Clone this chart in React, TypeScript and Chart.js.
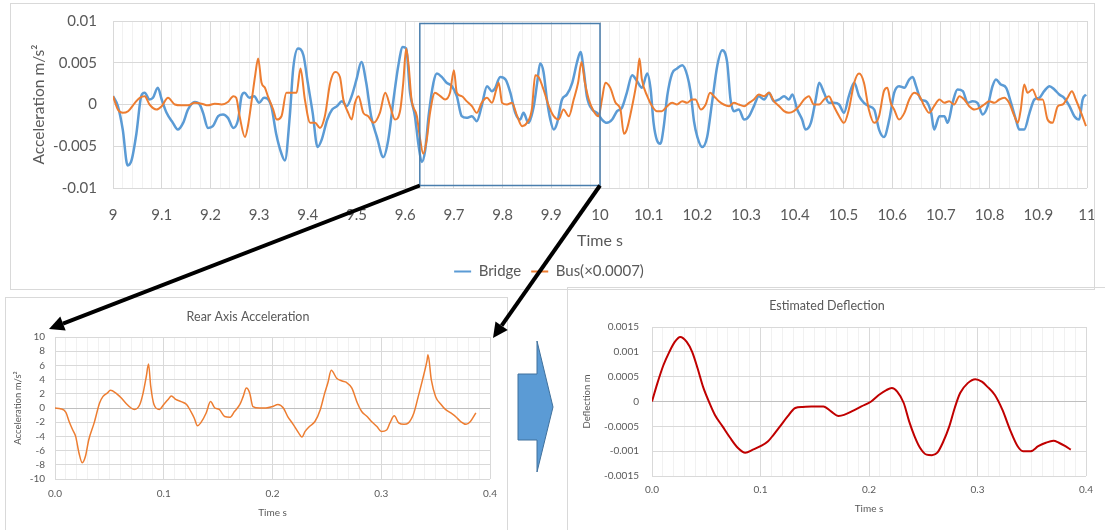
import React, { useEffect, useRef } from 'react';
import { Chart, registerables } from 'chart.js';

Chart.register(...registerables);

const FONT = 'Lato, "Noto Sans", "DejaVu Sans", sans-serif';
const TEXT = '#595959';
const BLUE = '#5B9BD5';
const ORANGE = '#ED7D31';
const RED = '#C00000';

// ---------- Top chart: bridge and bus acceleration ----------
const bridgeTime = [
  9.0, 9.01, 9.02, 9.03, 9.038, 9.048, 9.058, 9.065, 9.075, 9.082, 9.092, 9.1, 9.11, 9.123, 9.133, 9.144, 9.154, 9.168, 9.178, 9.185,
  9.195, 9.205, 9.216, 9.226, 9.236, 9.247, 9.257, 9.264, 9.27, 9.28, 9.29, 9.3, 9.31, 9.325, 9.335, 9.346, 9.353, 9.363, 9.37, 9.38,
  9.391, 9.4, 9.41, 9.42, 9.428, 9.44, 9.45, 9.46, 9.47, 9.48, 9.49, 9.5, 9.51, 9.52, 9.53, 9.542, 9.555, 9.565, 9.576, 9.586,
  9.595, 9.602, 9.61, 9.62, 9.627, 9.634, 9.641, 9.648, 9.658, 9.665, 9.675, 9.685, 9.696, 9.706, 9.716, 9.726, 9.737, 9.747, 9.757, 9.768,
  9.778, 9.785, 9.795, 9.806, 9.816, 9.826, 9.836, 9.843, 9.853, 9.864, 9.871, 9.877, 9.884, 9.891, 9.898, 9.905, 9.912, 9.922, 9.932, 9.943,
  9.953, 9.96, 9.967, 9.973, 9.984, 9.994, 10.004, 10.014, 10.025, 10.035, 10.045, 10.055, 10.066, 10.076, 10.086, 10.097, 10.104, 10.11, 10.117, 10.124,
  10.131, 10.138, 10.148, 10.158, 10.169, 10.179, 10.186, 10.193, 10.2, 10.21, 10.22, 10.23, 10.241, 10.251, 10.261, 10.268, 10.275, 10.285, 10.296, 10.306,
  10.316, 10.326, 10.337, 10.347, 10.357, 10.368, 10.378, 10.388, 10.395, 10.405, 10.415, 10.422, 10.433, 10.443, 10.45, 10.46, 10.47, 10.48, 10.491, 10.501,
  10.511, 10.522, 10.532, 10.542, 10.552, 10.563, 10.573, 10.583, 10.594, 10.604, 10.614, 10.625, 10.635, 10.642, 10.649, 10.659, 10.669, 10.68, 10.686, 10.697,
  10.707, 10.714, 10.724, 10.734, 10.745, 10.755, 10.765, 10.775, 10.786, 10.796, 10.806, 10.813, 10.823, 10.834, 10.844, 10.854, 10.861, 10.871, 10.882, 10.892,
  10.902, 10.912, 10.923, 10.933, 10.943, 10.953, 10.964, 10.974, 10.984, 10.991, 10.998,
];
const bridgeAccel = [
  0.001, -0.0002, -0.003, -0.0073, -0.0067, -0.0035, 0.001, 0.0014, 0.0006, 0.0008, 0.002, 0.0006, -0.001, -0.0022, -0.003, -0.0022, -0.0006, 0.0003, 0.0, -0.001,
  -0.0028, -0.0026, -0.0014, -0.0012, -0.0016, -0.0028, -0.0018, 0.001, 0.0014, 0.0008, 0.001, 0.0002, 0.0008, -0.0002, -0.0035, -0.0059, -0.0067, -0.0014, 0.0043, 0.0067,
  0.0059, 0.0026, -0.001, -0.0051, -0.0043, -0.0018, -0.0006, -0.0002, 0.0004, -0.0002, 0.001, 0.003, 0.0051, 0.0026, -0.0014, -0.0039, -0.0063, -0.0043, 0.0006, 0.0047,
  0.0069, 0.0067, 0.0014, -0.0014, -0.0047, -0.0069, -0.0055, -0.0014, 0.0026, 0.0037, 0.0033, 0.0026, 0.0022, 0.001, -0.0014, -0.0016, -0.0014, -0.002, -0.0002, 0.0022,
  0.0016, 0.002, 0.0033, 0.003, 0.0014, -0.001, -0.0018, -0.001, -0.0022, -0.0002, 0.0026, 0.0049, 0.0039, 0.0006, -0.0018, -0.003, -0.0022, 0.0006, 0.0012, 0.0026,
  0.0051, 0.0063, 0.0039, 0.001, -0.0006, -0.001, -0.0018, -0.0022, -0.0018, -0.0008, -0.0004, 0.0014, 0.0035, 0.0028, 0.002, 0.0037, 0.0018, -0.0022, -0.0043, -0.0047,
  -0.0026, 0.001, 0.0037, 0.0043, 0.0047, 0.0035, 0.0015, -0.002, -0.0039, -0.0051, -0.0039, 0.0002, 0.0047, 0.0065, 0.0051, 0.0006, -0.0008, -0.0006, -0.0018, -0.0014,
  -0.0002, 0.001, 0.0006, 0.0014, 0.0004, 0.0006, 0.001, 0.0006, 0.0012, -0.0006, -0.0018, -0.003, -0.0022, 0.0006, 0.0026, 0.0014, 0.0002, 0.0002, 0.0, -0.001,
  0.001, 0.0026, 0.001, 0.0002, -0.0002, -0.0006, -0.003, -0.0039, -0.0018, 0.0014, 0.0022, 0.002, 0.003, 0.0033, 0.0022, 0.0006, 0.0004, -0.001, -0.003, -0.0014,
  -0.0014, -0.0022, 0.0002, 0.0018, 0.0016, 0.0002, 0.0004, 0.0002, -0.0012, -0.0002, 0.0022, 0.003, 0.0024, 0.002, 0.0002, -0.0018, -0.003, -0.003, -0.001, 0.0006,
  0.0008, 0.0016, 0.0022, 0.0018, 0.0012, 0.0008, -0.0002, -0.0014, -0.0018, 0.0006, 0.0012,
];
const busTime = [
  9.0, 9.01, 9.02, 9.031, 9.045, 9.055, 9.065, 9.075, 9.089, 9.1, 9.113, 9.127, 9.14, 9.154, 9.168, 9.182, 9.195, 9.209, 9.223, 9.236,
  9.247, 9.253, 9.26, 9.271, 9.277, 9.286, 9.292, 9.298, 9.305, 9.312, 9.318, 9.329, 9.336, 9.346, 9.356, 9.366, 9.377, 9.385, 9.394, 9.405,
  9.415, 9.425, 9.435, 9.446, 9.456, 9.466, 9.473, 9.483, 9.49, 9.497, 9.504, 9.514, 9.524, 9.535, 9.548, 9.559, 9.569, 9.579, 9.59, 9.596,
  9.602, 9.607, 9.613, 9.624, 9.63, 9.637, 9.644, 9.651, 9.661, 9.672, 9.682, 9.692, 9.7, 9.706, 9.716, 9.726, 9.737, 9.747, 9.757, 9.768,
  9.778, 9.788, 9.792, 9.799, 9.809, 9.819, 9.83, 9.84, 9.85, 9.86, 9.867, 9.874, 9.884, 9.895, 9.905, 9.915, 9.925, 9.936, 9.946, 9.955,
  9.962, 9.969, 9.977, 9.987, 9.997, 10.004, 10.011, 10.021, 10.032, 10.042, 10.049, 10.055, 10.066, 10.076, 10.081, 10.086, 10.097, 10.107, 10.117, 10.127,
  10.138, 10.148, 10.158, 10.169, 10.179, 10.189, 10.196, 10.207, 10.217, 10.226, 10.234, 10.244, 10.254, 10.265, 10.275, 10.285, 10.296, 10.306, 10.316, 10.326,
  10.337, 10.347, 10.357, 10.368, 10.378, 10.388, 10.398, 10.409, 10.419, 10.429, 10.439, 10.45, 10.46, 10.47, 10.48, 10.491, 10.501, 10.511, 10.522, 10.532,
  10.542, 10.552, 10.563, 10.573, 10.583, 10.59, 10.597, 10.604, 10.614, 10.625, 10.635, 10.645, 10.656, 10.666, 10.676, 10.686, 10.697, 10.707, 10.717, 10.727,
  10.738, 10.748, 10.758, 10.769, 10.779, 10.789, 10.799, 10.81, 10.82, 10.83, 10.84, 10.851, 10.858, 10.864, 10.871, 10.878, 10.888, 10.899, 10.909, 10.919,
  10.929, 10.94, 10.95, 10.96, 10.969, 10.977, 10.988, 10.998,
];
const busAccel = [
  0.001, -0.0006, -0.001, -0.0008, 0.0002, 0.0008, 0.001, 0.0, -0.0006, -0.0002, 0.0008, 0.0, -0.0001, -0.0001, 0.0002, 0.0001, -0.0001, 0.0001, 0.0, 0.0003,
  0.001, 0.0008, -0.0014, -0.0039, -0.0026, 0.001, 0.0035, 0.0055, 0.0026, 0.002, 0.001, -0.0006, -0.0018, -0.0014, 0.0014, 0.0014, 0.0014, 0.0043, 0.0006, -0.0022,
  -0.0022, -0.0028, -0.0014, 0.0026, 0.0039, 0.0033, 0.0006, -0.001, -0.0018, 0.0002, 0.001, -0.001, -0.0014, -0.0022, -0.001, 0.0014, -0.0002, -0.0018, -0.0006, 0.0026,
  0.0067, 0.0047, 0.0006, -0.0014, -0.0039, -0.0059, -0.0043, -0.001, 0.0014, 0.001, 0.0006, 0.0014, 0.0041, 0.0014, 0.001, 0.0004, -0.0002, -0.001, 0.0002, 0.0008,
  0.0002, 0.002, 0.0026, 0.0002, 0.0, 0.0002, -0.0014, -0.0026, -0.0022, -0.0006, 0.0035, 0.0033, 0.0018, -0.0002, -0.0014, -0.0018, -0.0006, -0.0014, 0.0006, 0.0026,
  0.0051, 0.0026, 0.0006, -0.0008, -0.0014, 0.0006, 0.0026, 0.002, 0.0002, -0.0006, -0.0035, -0.003, -0.0002, 0.003, 0.0055, 0.003, 0.001, -0.0002, -0.0008, -0.0008,
  -0.0002, 0.0002, 0.0, 0.0004, 0.0002, 0.0006, 0.0006, -0.0006, 0.0, 0.0014, 0.001, 0.0004, 0.0, -0.0002, 0.0002, 0.0, -0.0002, 0.0002, 0.0006, 0.0012,
  0.001, 0.0014, 0.0004, -0.0002, -0.0008, -0.001, -0.0008, -0.0002, 0.0006, 0.001, 0.0, 0.0, 0.0006, 0.001, -0.0002, -0.0014, -0.0022, -0.0006, 0.0026, 0.0037,
  0.0026, -0.0006, -0.0022, -0.0014, 0.0016, 0.002, 0.0002, -0.0006, -0.0018, -0.001, 0.0006, 0.0014, 0.001, -0.0002, -0.001, -0.0002, 0.0006, 0.0002, 0.0004, 0.0,
  0.001, 0.0006, -0.0002, -0.0006, -0.0004, 0.0, 0.0004, 0.0002, 0.0006, 0.0008, 0.0002, -0.0014, -0.0022, -0.0006, 0.0024, 0.0014, 0.0018, 0.0006, 0.0006, -0.0018,
  -0.0022, -0.0002, 0.0, 0.0008, 0.0016, 0.0006, -0.001, -0.0026,
];
const topXRange = [9, 11];
const topXMajorStep = 0.1;
const topXMinorStep = 0.02;
const topYTicks = [-0.01, -0.005, 0, 0.005, 0.01];
// highlighted window that is enlarged below
const zoomWindowTime = [9.63, 10.0];
const zoomWindowAccel = [-0.0097, 0.0097];

// ---------- Bottom-left: rear axis acceleration ----------
const rearTime = [
  0.0, 0.005, 0.01, 0.013, 0.016, 0.019, 0.022, 0.025, 0.028, 0.031, 0.036, 0.041, 0.044, 0.048, 0.051, 0.056, 0.061, 0.065, 0.07, 0.073,
  0.078, 0.081, 0.084, 0.086, 0.088, 0.091, 0.096, 0.1, 0.104, 0.107, 0.111, 0.116, 0.121, 0.125, 0.128, 0.131, 0.134, 0.139, 0.143, 0.147,
  0.151, 0.156, 0.161, 0.165, 0.17, 0.173, 0.176, 0.179, 0.182, 0.188, 0.194, 0.2, 0.205, 0.21, 0.214, 0.219, 0.224, 0.227, 0.23, 0.234,
  0.239, 0.244, 0.248, 0.251, 0.254, 0.259, 0.264, 0.268, 0.273, 0.278, 0.282, 0.287, 0.291, 0.296, 0.3, 0.305, 0.308, 0.312, 0.316, 0.321,
  0.325, 0.33, 0.334, 0.338, 0.342, 0.343, 0.346, 0.35, 0.355, 0.359, 0.364, 0.369, 0.373, 0.378, 0.382, 0.387,
];
const rearAccel = [
  0.0, -0.1, -0.6, -1.9, -3.0, -4.0, -6.3, -7.7, -6.8, -4.5, -2.1, 0.7, 1.6, 2.1, 2.5, 2.1, 1.4, 0.7, 0.0, -0.2,
  0.5, 2.1, 4.5, 6.2, 3.1, 0.5, -0.2, 0.5, 1.2, 1.7, 1.2, 0.9, 0.5, -0.5, -1.4, -2.5, -2.1, -0.7, 0.9, 0.0,
  -0.2, -1.2, -1.3, -0.5, 0.5, 1.6, 2.8, 2.1, 0.2, 0.0, 0.0, 0.2, 0.5, 0.0, -1.2, -2.3, -3.5, -4.1, -3.3, -2.6,
  -1.9, -0.2, 2.1, 3.6, 5.3, 4.2, 3.8, 3.6, 2.8, 0.7, -0.5, -1.2, -1.9, -2.6, -3.3, -3.1, -2.1, -1.1, -2.1, -2.3,
  -2.1, -0.7, 1.6, 4.0, 6.6, 7.5, 4.0, 1.6, 0.5, -0.2, -0.7, -1.3, -1.9, -2.3, -1.9, -0.7,
];
const rearYTicks = [-10, -8, -6, -4, -2, 0, 2, 4, 6, 8, 10];

// ---------- Bottom-right: estimated deflection ----------
const deflTime = [
  0.0, 0.005, 0.0105, 0.016, 0.021, 0.026, 0.032, 0.037, 0.042, 0.047, 0.053, 0.058, 0.065, 0.072, 0.079, 0.086, 0.093, 0.1, 0.107, 0.112,
  0.118, 0.125, 0.132, 0.139, 0.147, 0.158, 0.165, 0.172, 0.177, 0.184, 0.193, 0.202, 0.209, 0.216, 0.221, 0.226, 0.232, 0.237, 0.242, 0.247,
  0.253, 0.258, 0.263, 0.268, 0.274, 0.279, 0.284, 0.291, 0.298, 0.304, 0.309, 0.316, 0.323, 0.33, 0.337, 0.342, 0.349, 0.356, 0.363, 0.37,
  0.375, 0.381, 0.386,
];
const deflValue = [
  0.0, 0.00037, 0.00073, 0.001, 0.0012, 0.0013, 0.0012, 0.001, 0.00067, 0.0003, -0.00003, -0.00027, -0.0005, -0.00073, -0.00093, -0.00103, -0.00097, -0.0009, -0.0008, -0.00067,
  -0.0005, -0.0003, -0.00013, -0.00011, -0.0001, -0.0001, -0.0002, -0.00029, -0.00027, -0.0002, -0.0001, 0.0, 0.00013, 0.00023, 0.00027, 0.0002, -0.00003, -0.0004, -0.0007, -0.00093,
  -0.00107, -0.00108, -0.00103, -0.00083, -0.0005, -0.00013, 0.00017, 0.00037, 0.00045, 0.0004, 0.0003, 0.00013, -0.00017, -0.00057, -0.0009, -0.001, -0.001, -0.0009, -0.00083, -0.00079,
  -0.00083, -0.0009, -0.00097,
];
const deflYTicks = [-0.0015, -0.001, -0.0005, 0, 0.0005, 0.001, 0.0015];
const bottomXRange = [0, 0.4];
const bottomXMajorStep = 0.1;
const bottomXMinorStep = 0.01;

// ---------- helpers ----------
const toXY = (xs: number[], ys: number[]) => xs.map((x, i) => ({ x, y: ys[i] }));
const isMultiple = (v: number, step: number) => Math.abs(v / step - Math.round(v / step)) < 1e-6;
const fmt = (v: number, digits: number) => String(Math.round(v * Math.pow(10, digits)) / Math.pow(10, digits));
const stepTicks = (min: number, max: number, step: number) => {
  const out: { value: number }[] = [];
  const n = Math.round((max - min) / step);
  for (let i = 0; i <= n; i++) out.push({ value: min + i * step });
  return out;
};
const font = (size: number) => ({ family: FONT, size, weight: 'normal' as const });

const zoomBoxPlugin = {
  id: 'zoomBox',
  afterDatasetsDraw(chart: any) {
    const { ctx, scales } = chart;
    const x0 = scales.x.getPixelForValue(zoomWindowTime[0]);
    const x1 = scales.x.getPixelForValue(zoomWindowTime[1]);
    const y0 = scales.y.getPixelForValue(zoomWindowAccel[1]);
    const y1 = scales.y.getPixelForValue(zoomWindowAccel[0]);
    ctx.save();
    ctx.strokeStyle = '#4A7EAD';
    ctx.lineWidth = 1.5;
    ctx.strokeRect(x0, y0, x1 - x0, y1 - y0);
    ctx.restore();
  },
};

function legendLabels(chart: any) {
  const items = (Chart.defaults.plugins.legend.labels as any).generateLabels(chart);
  return items
    .map((it: any) => ({ ...it, lineWidth: 2, pointStyle: 'line' }))
    .sort((a: any, b: any) => a.datasetIndex - b.datasetIndex);
}

function topConfig(): any {
  return {
    type: 'line',
    data: {
      datasets: [
        {
          label: 'Bridge',
          data: toXY(bridgeTime, bridgeAccel),
          borderColor: BLUE,
          backgroundColor: BLUE,
          borderWidth: 2.5,
          pointRadius: 0,
          cubicInterpolationMode: 'monotone',
          order: 1,
        },
        {
          label: 'Bus(×0.0007)',
          data: toXY(busTime, busAccel),
          borderColor: ORANGE,
          backgroundColor: ORANGE,
          borderWidth: 2,
          pointRadius: 0,
          cubicInterpolationMode: 'monotone',
          order: 0,
        },
      ],
    },
    options: {
      animation: false,
      responsive: false,
      events: [],
      layout: { padding: { left: 0, right: 7, top: 17, bottom: 0 } },
      plugins: {
        legend: {
          position: 'bottom',
          labels: {
            usePointStyle: true,
            pointStyle: 'line',
            pointStyleWidth: 17,
            boxHeight: 15,
            font: font(15),
            color: TEXT,
            padding: 10,
            generateLabels: legendLabels,
          },
        },
        tooltip: { enabled: false },
        title: { display: false },
      },
      scales: {
        x: {
          type: 'linear',
          min: topXRange[0],
          max: topXRange[1],
          afterBuildTicks: (s: any) => { s.ticks = stepTicks(topXRange[0], topXRange[1], topXMinorStep); },
          ticks: {
            autoSkip: false,
            maxRotation: 0,
            minRotation: 0,
            padding: 18,
            font: font(15),
            color: TEXT,
            callback: (v: number) => (isMultiple(v, topXMajorStep) ? fmt(v, 1) : ''),
          },
          grid: {
            drawTicks: false,
            color: (c: any) => (c.tick && isMultiple(c.tick.value, topXMajorStep) ? '#d9d9d9' : '#f1f1f1'),
          },
          border: { display: false },
          title: { display: true, text: 'Time s', font: font(16), color: TEXT, padding: { top: 4, bottom: 4 } },
          afterFit: (s: any) => { s.height = 66; s.paddingLeft = 0; s.paddingRight = 0; },
        },
        y: {
          min: topYTicks[0],
          max: topYTicks[topYTicks.length - 1],
          afterBuildTicks: (s: any) => { s.ticks = topYTicks.map((value) => ({ value })); },
          ticks: { autoSkip: false, padding: 16, font: font(15), color: TEXT, callback: (v: number) => fmt(v, 4) },
          grid: { drawTicks: false, color: '#d9d9d9' },
          border: { display: false },
          title: { display: true, text: 'Acceleration m/s²', font: font(15.5), color: TEXT, padding: { top: 19, bottom: 4 } },
          afterFit: (s: any) => { s.width = 102; s.paddingTop = 0; s.paddingBottom = 0; },
        },
      },
    },
    plugins: [zoomBoxPlugin],
  };
}

function bottomConfig(opts: {
  title: string;
  yTitle: string;
  xs: number[];
  ys: number[];
  color: string;
  width: number;
  yTicks: number[];
  yDigits: number;
  yAxisWidth: number;
  yTickPad: number;
  yTitlePad: number;
  xAxisHeight: number;
  xTickPad: number;
  padRight: number;
  padBottom: number;
  titlePad: { top: number; bottom: number };
}): any {
  return {
    type: 'line',
    data: {
      datasets: [
        {
          label: opts.title,
          data: toXY(opts.xs, opts.ys),
          borderColor: opts.color,
          backgroundColor: opts.color,
          borderWidth: opts.width,
          pointRadius: 0,
          cubicInterpolationMode: 'monotone',
        },
      ],
    },
    options: {
      animation: false,
      responsive: false,
      events: [],
      layout: { padding: { left: 0, right: opts.padRight, top: 0, bottom: opts.padBottom } },
      plugins: {
        legend: { display: false },
        tooltip: { enabled: false },
        title: { display: true, text: opts.title, font: font(12.5), color: TEXT, padding: opts.titlePad },
      },
      scales: {
        x: {
          type: 'linear',
          min: bottomXRange[0],
          max: bottomXRange[1],
          afterBuildTicks: (s: any) => { s.ticks = stepTicks(bottomXRange[0], bottomXRange[1], bottomXMinorStep); },
          ticks: {
            autoSkip: false,
            maxRotation: 0,
            minRotation: 0,
            padding: opts.xTickPad,
            font: font(10),
            color: TEXT,
            callback: (v: number) => (isMultiple(v, bottomXMajorStep) ? v.toFixed(1) : ''),
          },
          grid: {
            drawTicks: false,
            color: (c: any) => (c.tick && isMultiple(c.tick.value, bottomXMajorStep) ? '#d9d9d9' : '#f1f1f1'),
          },
          border: { display: false },
          title: { display: true, text: 'Time s', font: font(10), color: TEXT, padding: { top: 2, bottom: 4 } },
          afterFit: (s: any) => { s.height = opts.xAxisHeight; s.paddingLeft = 0; s.paddingRight = 0; },
        },
        y: {
          min: opts.yTicks[0],
          max: opts.yTicks[opts.yTicks.length - 1],
          afterBuildTicks: (s: any) => { s.ticks = opts.yTicks.map((value) => ({ value })); },
          ticks: { autoSkip: false, padding: opts.yTickPad, font: font(10), color: TEXT, callback: (v: number) => fmt(v, opts.yDigits) },
          grid: {
            drawTicks: false,
            color: (c: any) => (c.tick && Math.abs(c.tick.value) < 1e-12 ? '#bfbfbf' : '#d9d9d9'),
          },
          border: { display: false },
          title: { display: true, text: opts.yTitle, font: font(9.5), color: TEXT, padding: { top: opts.yTitlePad, bottom: 2 } },
          afterFit: (s: any) => { s.width = opts.yAxisWidth; s.paddingTop = 0; s.paddingBottom = 0; },
        },
      },
    },
  };
}

function drawArrow(ctx: CanvasRenderingContext2D, x0: number, y0: number, x1: number, y1: number) {
  const ang = Math.atan2(y1 - y0, x1 - x0);
  const headLen = 15;
  const headW = 7.5;
  const bx = x1 - headLen * Math.cos(ang);
  const by = y1 - headLen * Math.sin(ang);
  ctx.strokeStyle = '#000';
  ctx.lineWidth = 4;
  ctx.beginPath();
  ctx.moveTo(x0, y0);
  ctx.lineTo(bx, by);
  ctx.stroke();
  ctx.fillStyle = '#000';
  ctx.beginPath();
  ctx.moveTo(x1, y1);
  ctx.lineTo(bx + headW * Math.sin(ang), by - headW * Math.cos(ang));
  ctx.lineTo(bx - headW * Math.sin(ang), by + headW * Math.cos(ang));
  ctx.closePath();
  ctx.fill();
}

export default function App() {
  const wrapRef = useRef<HTMLDivElement>(null);
  const topRef = useRef<HTMLCanvasElement>(null);
  const rearRef = useRef<HTMLCanvasElement>(null);
  const deflRef = useRef<HTMLCanvasElement>(null);
  const overlayRef = useRef<HTMLCanvasElement>(null);

  useEffect(() => {
    const top = new Chart(topRef.current!, topConfig());
    const rear = new Chart(
      rearRef.current!,
      bottomConfig({
        title: 'Rear Axis Acceleration',
        yTitle: 'Acceleration m/s²',
        xs: rearTime,
        ys: rearAccel,
        color: ORANGE,
        width: 1.5,
        yTicks: rearYTicks,
        yDigits: 0,
        yAxisWidth: 49,
        yTickPad: 10,
        yTitlePad: 6,
        xAxisHeight: 44,
        xTickPad: 9,
        padRight: 17,
        padBottom: 13,
        titlePad: { top: 11, bottom: 13 },
      })
    );
    const defl = new Chart(
      deflRef.current!,
      bottomConfig({
        title: 'Estimated Deflection',
        yTitle: 'Deflection m',
        xs: deflTime,
        ys: deflValue,
        color: RED,
        width: 2,
        yTicks: deflYTicks,
        yDigits: 5,
        yAxisWidth: 84,
        yTickPad: 13,
        yTitlePad: 13,
        xAxisHeight: 43,
        xTickPad: 8,
        padRight: 25,
        padBottom: 17,
        titlePad: { top: 10, bottom: 14 },
      })
    );

    // overlay: arrows linking the highlighted window to the enlarged chart, and the block arrow
    const ov = overlayRef.current!;
    const ctx = ov.getContext('2d')!;
    ctx.clearRect(0, 0, ov.width, ov.height);
    const base = wrapRef.current!.getBoundingClientRect();
    const tr = topRef.current!.getBoundingClientRect();
    const rr = rearRef.current!.getBoundingClientRect();
    const tx = tr.left - base.left;
    const ty = tr.top - base.top;
    const rx = rr.left - base.left;
    const ry = rr.top - base.top;
    const sx0 = tx + top.scales.x.getPixelForValue(zoomWindowTime[0]);
    const sx1 = tx + top.scales.x.getPixelForValue(zoomWindowTime[1]);
    const sy = ty + top.scales.y.getPixelForValue(zoomWindowAccel[0]);
    const area = rear.chartArea;
    drawArrow(ctx, sx0, sy, rx + area.left - 6, ry + area.top - 8);
    drawArrow(ctx, sx1, sy, rx + area.right + 3, ry + area.top + 1);

    // block arrow between the two lower charts
    ctx.beginPath();
    ctx.moveTo(518, 374);
    ctx.lineTo(537, 374);
    ctx.lineTo(537, 341);
    ctx.lineTo(553, 407);
    ctx.lineTo(537, 472);
    ctx.lineTo(537, 440);
    ctx.lineTo(518, 440);
    ctx.closePath();
    ctx.fillStyle = BLUE;
    ctx.fill();
    ctx.strokeStyle = '#41719C';
    ctx.lineWidth = 1;
    ctx.stroke();

    return () => {
      top.destroy();
      rear.destroy();
      defl.destroy();
    };
  }, []);

  const box = '1px solid #d9d9d9';
  return (
    <div
      ref={wrapRef}
      style={{ position: 'absolute', left: 0, top: 0, width: 1105, height: 530, overflow: 'hidden', background: '#fff' }}
    >
      <div style={{ position: 'absolute', left: 10, top: 3, width: 1083, height: 285, border: box }}>
        <canvas ref={topRef} width={1083} height={285} style={{ display: 'block' }} />
      </div>
      <div style={{ position: 'absolute', left: 5, top: 297, width: 501, height: 238, border: box }}>
        <canvas ref={rearRef} width={501} height={238} style={{ display: 'block' }} />
      </div>
      <div style={{ position: 'absolute', left: 567, top: 287, width: 543, height: 248, border: box }}>
        <canvas ref={deflRef} width={543} height={248} style={{ display: 'block' }} />
      </div>
      <canvas
        ref={overlayRef}
        width={1105}
        height={530}
        style={{ position: 'absolute', left: 0, top: 0, pointerEvents: 'none' }}
      />
    </div>
  );
}
